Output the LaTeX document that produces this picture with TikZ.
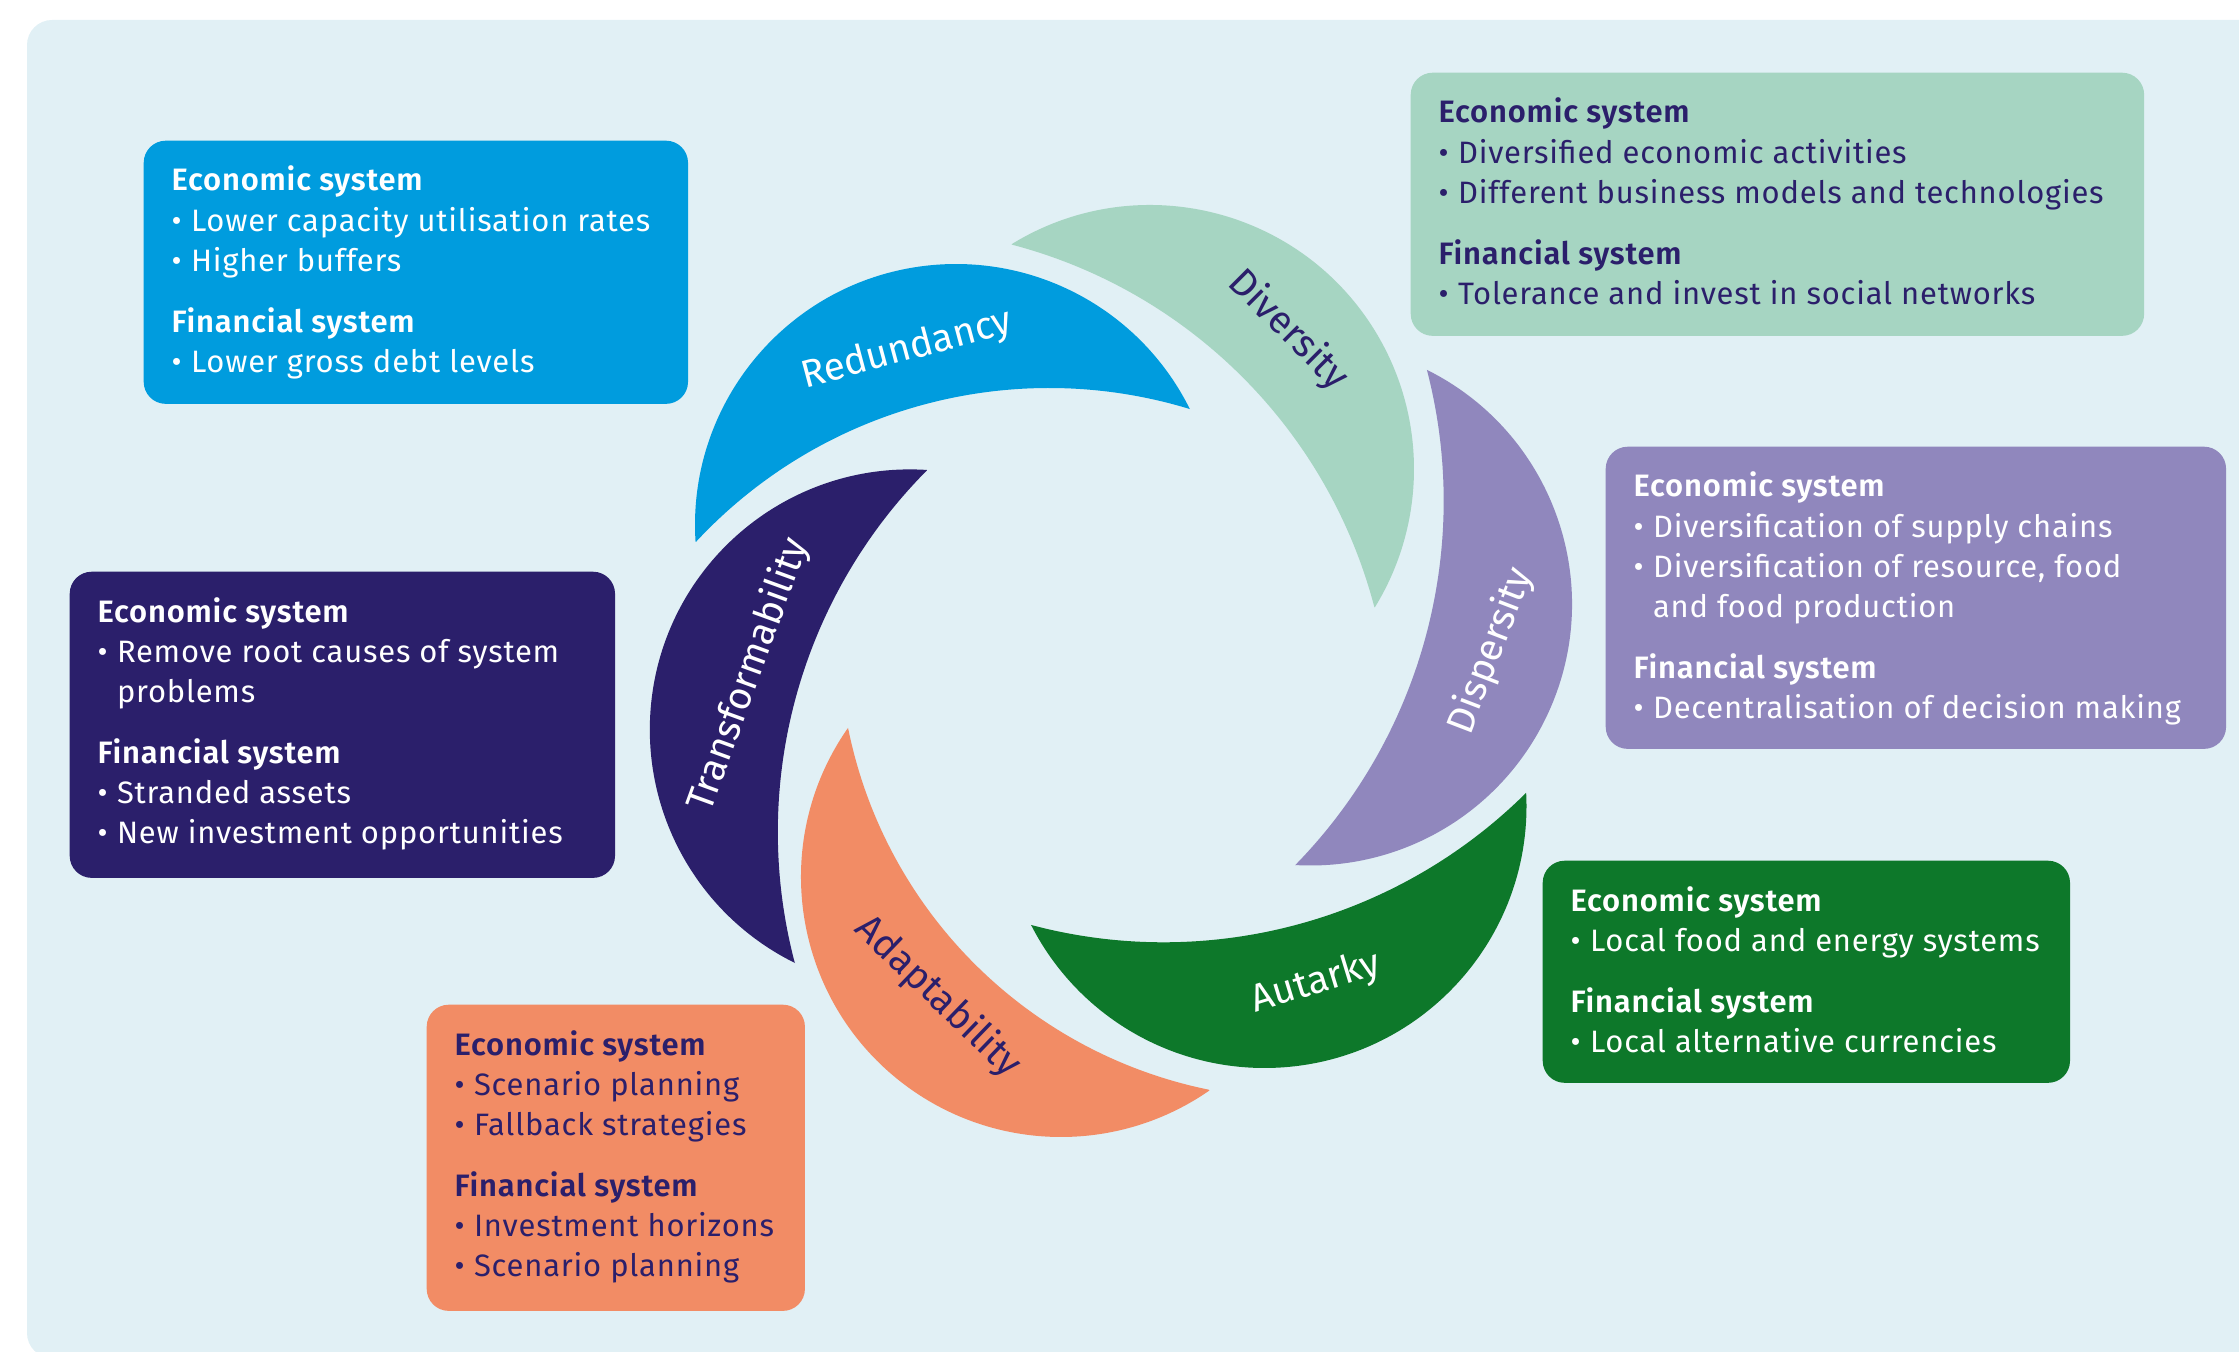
\documentclass[tikz,border=0pt]{standalone}
\usepackage{fontspec}
\setmainfont{Fira Sans}[BoldFont={Fira Sans SemiBold}]
\usetikzlibrary{calc}

\definecolor{cbg}{HTML}{E1F0F5}
\definecolor{cblue}{HTML}{009CDE}
\definecolor{cmint}{HTML}{A6D5C2}
\definecolor{cpurple}{HTML}{9087BD}
\definecolor{cgreen}{HTML}{0D782A}
\definecolor{corange}{HTML}{F28C65}
\definecolor{cnavy}{HTML}{2B1F6B}

% text block helpers: heading, bullet item, continuation line, group gap
\newcommand\hd[1]{\hbox{\bfseries #1}}
\newcommand\itm[1]{\hbox{•\hspace{0.3em}#1}}
\newcommand\cnt[1]{\hbox{\phantom{•\hspace{0.3em}}#1}}
\newcommand\gp{\vskip 6pt}
\newcommand\blk[1]{\vtop{\addfontfeatures{LetterSpace=2.6}\baselineskip=11.38pt\lineskiplimit=-20pt\lineskip=0pt #1}}

% crescent: outer arc (centre, radius, start, end) then inner arc back
% #1 colour, #2 outer centre, #3 outer radius, #4 start, #5 end,
% #6 inner centre, #7 inner radius, #8 start, #9 end
\newcommand\crescent[9]{%
  \fill[#1] #2 ++(#4:#3) arc[start angle=#4, end angle=#5, radius=#3]
    -- ($#6+(#8:#7)$) arc[start angle=#8, end angle=#9, radius=#7] -- cycle;}

\begin{document}
\begin{tikzpicture}[x=0.01cm,y=-0.01cm,
  panel/.style={rectangle, rounded corners=0.22cm, inner sep=0, anchor=north west},
  txt/.style={anchor=base west, inner sep=0, font=\fontsize{8.8}{11.38}\selectfont},
  lab/.style={inner sep=0, font=\fontsize{11}{13}\selectfont}]

\useasboundingbox (0,0) rectangle (2239,1352);
\clip (0,0) rectangle (2239,1352);
\fill[cbg, rounded corners=0.25cm] (27,20) rectangle (2300,1358);

% ---------- crescents ----------
\crescent{cblue}{(956,525)}{261}{176.3}{333.6}{(1049,870)}{482}{287.0}{222.9}      % Redundancy
\crescent{cmint}{(1150,469)}{264}{238.4}{391.6}{(883,736)}{508}{345.3}{284.7}      % Diversity
\crescent{cpurple}{(1310.5,604)}{261.5}{-63.5}{93.4}{(923,501)}{520.7}{44.4}{-14.6} % Dispersity
\crescent{cgreen}{(1264.5,806)}{262}{-2.8}{153.0}{(1163.5,427.6)}{514.7}{104.9}{45.2} % Autarky
\crescent{corange}{(1061,877)}{260}{215.0}{55.2}{(1301,637)}{462}{101.5}{168.6}   % Adaptability
\crescent{cnavy}{(910,729.6)}{260.2}{273.7}{116.2}{(1291,832)}{513.2}{165.2}{224.8} % Transformability

% ---------- crescent labels ----------
\node[lab, text=white, rotate=15] (lRed) at (907,350) {Redundancy};
\node[lab, text=cnavy, rotate=-45] (lDiv) at (1288,330) {Diversity};
\node[lab, text=white, rotate=69] (lDis) at (1491,651) {Dispersity};
\node[lab, text=white, rotate=17] (lAut) at (1316,983) {Autarky};
\node[lab, text=cnavy, rotate=-44] (lAda) at (938,997) {Adaptability};
\node[lab, text=white, rotate=70] (lTra) at (749,675) {Transformability};

% ---------- panels ----------
\node[panel, fill=cblue,   minimum width=5.44cm, minimum height=2.63cm] (pRed) at (143,140) {};
\node[panel, fill=cmint,   minimum width=7.33cm, minimum height=2.63cm] (pDiv) at (1410,72) {};
\node[panel, fill=cpurple, minimum width=6.20cm, minimum height=3.02cm] (pDis) at (1605,446) {};
\node[panel, fill=cgreen,  minimum width=5.27cm, minimum height=2.22cm] (pAut) at (1542,860) {};
\node[panel, fill=corange, minimum width=3.78cm, minimum height=3.06cm] (pAda) at (426,1004) {};
\node[panel, fill=cnavy,   minimum width=5.45cm, minimum height=3.06cm] (pTra) at (69,571) {};

\node[txt, text=white] (tRed) at ($(pRed.north west)+(28,51)$) {\blk{%
  \hd{Economic system}\itm{Lower capacity utilisation rates}\itm{Higher buffers}\gp
  \hd{Financial system}\itm{Lower gross debt levels}}};
\node[txt, text=cnavy] (tDiv) at ($(pDiv.north west)+(28,51)$) {\blk{%
  \hd{Economic system}\itm{Diversified economic activities}\itm{Different business models and technologies}\gp
  \hd{Financial system}\itm{Tolerance and invest in social networks}}};
\node[txt, text=white] (tDis) at ($(pDis.north west)+(28,51)$) {\blk{%
  \hd{Economic system}\itm{Diversification of supply chains}\itm{Diversification of resource, food}\cnt{and food production}\gp
  \hd{Financial system}\itm{Decentralisation of decision making}}};
\node[txt, text=white] (tAut) at ($(pAut.north west)+(28,51)$) {\blk{%
  \hd{Economic system}\itm{Local food and energy systems}\gp
  \hd{Financial system}\itm{Local alternative currencies}}};
\node[txt, text=cnavy] (tAda) at ($(pAda.north west)+(28,51)$) {\blk{%
  \hd{Economic system}\itm{Scenario planning}\itm{Fallback strategies}\gp
  \hd{Financial system}\itm{Investment horizons}\itm{Scenario planning}}};
\node[txt, text=white] (tTra) at ($(pTra.north west)+(28,51)$) {\blk{%
  \hd{Economic system}\itm{Remove root causes of system}\cnt{problems}\gp
  \hd{Financial system}\itm{Stranded assets}\itm{New investment opportunities}}};

\end{tikzpicture}
\end{document}
